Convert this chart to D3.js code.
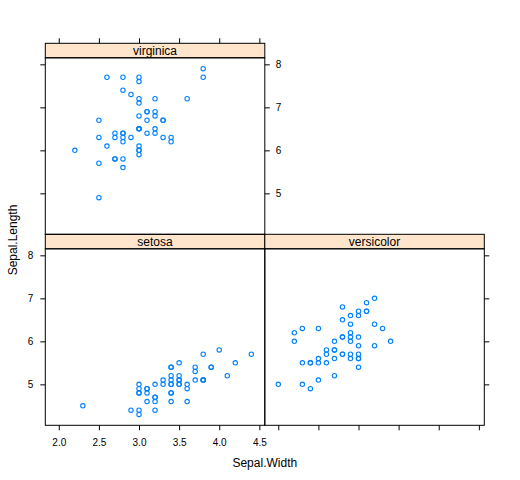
<!DOCTYPE html>
<html>
<head>
<meta charset="utf-8">
<script src="https://cdn.jsdelivr.net/npm/d3@7"></script>
<style>
  body { margin: 0; background: #fff; }
  text { font-family: "Liberation Sans", Arial, sans-serif; fill: #000; }
</style>
</head>
<body>
<div id="chart"></div>
<script>
// iris data, one pair of arrays per species
const setosaWidth  = [3.5,3.0,3.2,3.1,3.6,3.9,3.4,3.4,2.9,3.1,3.7,3.4,3.0,3.0,4.0,4.4,3.9,3.5,3.8,3.8,3.4,3.7,3.6,3.3,3.4,3.0,3.4,3.5,3.4,3.2,3.1,3.4,4.1,4.2,3.1,3.2,3.5,3.6,3.0,3.4,3.5,2.3,3.2,3.5,3.8,3.0,3.8,3.2,3.7,3.3];
const setosaLength = [5.1,4.9,4.7,4.6,5.0,5.4,4.6,5.0,4.4,4.9,5.4,4.8,4.8,4.3,5.8,5.7,5.4,5.1,5.7,5.1,5.4,5.1,4.6,5.1,4.8,5.0,5.0,5.2,5.2,4.7,4.8,5.4,5.2,5.5,4.9,5.0,5.5,4.9,4.4,5.1,5.0,4.5,4.4,5.0,5.1,4.8,5.1,4.6,5.3,5.0];
const versicolorWidth  = [3.2,3.2,3.1,2.3,2.8,2.8,3.3,2.4,2.9,2.7,2.0,3.0,2.2,2.9,2.9,3.1,3.0,2.7,2.2,2.5,3.2,2.8,2.5,2.8,2.9,3.0,2.8,3.0,2.9,2.6,2.4,2.4,2.7,2.7,3.0,3.4,3.1,2.3,3.0,2.5,2.6,3.0,2.6,2.3,2.7,3.0,2.9,2.9,2.5,2.8];
const versicolorLength = [7.0,6.4,6.9,5.5,6.5,5.7,6.3,4.9,6.6,5.2,5.0,5.9,6.0,6.1,5.6,6.7,5.6,5.8,6.2,5.6,5.9,6.1,6.3,6.1,6.4,6.6,6.8,6.7,6.0,5.7,5.5,5.5,5.8,6.0,5.4,6.0,6.7,6.3,5.6,5.5,5.5,6.1,5.8,5.0,5.6,5.7,5.7,6.2,5.1,5.7];
const virginicaWidth  = [3.3,2.7,3.0,2.9,3.0,3.0,2.5,2.9,2.5,3.6,3.2,2.7,3.0,2.5,2.8,3.2,3.0,3.8,2.6,2.2,3.2,2.8,2.8,2.7,3.3,3.2,2.8,3.0,2.8,3.0,2.8,3.8,2.8,2.8,2.6,3.0,3.4,3.1,3.0,3.1,3.1,3.1,2.7,3.2,3.3,3.0,2.5,3.0,3.4,3.0];
const virginicaLength = [6.3,5.8,7.1,6.3,6.5,7.6,4.9,7.3,6.7,7.2,6.5,6.4,6.8,5.7,5.8,6.4,6.5,7.7,7.7,6.0,6.9,5.6,7.7,6.3,6.7,7.2,6.2,6.1,6.4,7.2,7.4,7.9,6.4,6.3,6.1,7.7,6.3,6.4,6.0,6.9,6.7,6.9,5.8,6.8,6.7,6.0,6.3,6.5,6.2,5.9];

// tick values shared by every panel
const xTicks = [2.0, 2.5, 3.0, 3.5, 4.0, 4.5];
const yTicks = [5, 6, 7, 8];

// svg setup
const width = 520, height = 480;
const svg = d3.select("#chart").append("svg")
    .attr("width", width)
    .attr("height", height);

// panel geometry (lattice 2x2 layout, top-right empty)
const panelW = 219.5;
const stripH = 14.5;
const left0 = 45.3;
const top0 = 43.3;
const rowH = 191;  // strip + panel

// lattice pads the data range by 7%
const allX = setosaWidth.concat(versicolorWidth, virginicaWidth);
const allY = setosaLength.concat(versicolorLength, virginicaLength);
const xMin = d3.min(allX), xMax = d3.max(allX);
const yMin = d3.min(allY), yMax = d3.max(allY);
const xPad = (xMax - xMin) * 0.07, yPad = (yMax - yMin) * 0.07;

const panels = [
    { name: "setosa",     col: 0, row: 1, xs: setosaWidth,     ys: setosaLength },
    { name: "versicolor", col: 1, row: 1, xs: versicolorWidth, ys: versicolorLength },
    { name: "virginica",  col: 0, row: 0, xs: virginicaWidth,  ys: virginicaLength }
];

panels.forEach(p => {
    const px = left0 + p.col * panelW;
    const stripY = top0 + p.row * rowH;
    const py = stripY + stripH;
    const ph = rowH - stripH;

    const x = d3.scaleLinear().domain([xMin - xPad, xMax + xPad]).range([px, px + panelW]);
    const y = d3.scaleLinear().domain([yMin - yPad, yMax + yPad]).range([py + ph, py]);

    // strip
    svg.append("rect")
        .attr("x", px).attr("y", stripY)
        .attr("width", panelW).attr("height", stripH)
        .attr("fill", "#ffe5cc")
        .attr("stroke", "#000").attr("stroke-width", 1);
    svg.append("text")
        .attr("x", px + panelW / 2)
        .attr("y", stripY + stripH / 2 + 4.3)
        .attr("text-anchor", "middle")
        .style("font-size", "12px")
        .text(p.name);

    // points
    svg.append("g").selectAll("circle")
        .data(d3.zip(p.xs, p.ys))
        .enter().append("circle")
        .attr("cx", d => x(d[0]))
        .attr("cy", d => y(d[1]))
        .attr("r", 2.2)
        .attr("fill", "none")
        .attr("stroke", "#0080ff")
        .attr("stroke-width", 1.1);

    // axes: which sides get ticks and which get labels
    const bottomRow = p.row === 1;
    const sides = [];
    if (bottomRow) sides.push({ axis: d3.axisBottom(x), pos: `translate(0,${py + ph})`, labels: p.col === 0, pad: 9, isX: true });
    else sides.push({ axis: d3.axisTop(x), pos: `translate(0,${stripY})`, labels: false, pad: 3, isX: true });
    if (p.col === 0) sides.push({ axis: d3.axisLeft(y), pos: `translate(${px},0)`, labels: bottomRow, pad: 7, isX: false });
    if (p.col === 1 || p.row === 0) sides.push({ axis: d3.axisRight(y), pos: `translate(${px + panelW},0)`, labels: p.row === 0, pad: 6, isX: false });

    sides.forEach(s => {
        const g = svg.append("g")
            .attr("transform", s.pos)
            .call(s.axis
                .tickValues(s.isX ? xTicks : yTicks)
                .tickSize(5).tickSizeOuter(0).tickPadding(s.pad)
                .tickFormat(s.isX ? d3.format(".1f") : d3.format("d")));
        g.select(".domain").remove();
        g.selectAll("line").attr("stroke", "#000");
        g.selectAll("text")
            .style("font-family", '"Liberation Sans", Arial, sans-serif')
            .style("font-size", "10px")
            .attr("fill", "#000");
        if (!s.labels) g.selectAll("text").remove();
    });

    // panel border
    svg.append("rect")
        .attr("x", px).attr("y", py)
        .attr("width", panelW).attr("height", ph)
        .attr("fill", "none")
        .attr("stroke", "#000").attr("stroke-width", 1);
});

// axis titles
svg.append("text")
    .attr("x", left0 + panelW)
    .attr("y", 467)
    .attr("text-anchor", "middle")
    .style("font-size", "12px")
    .text("Sepal.Width");
svg.append("text")
    .attr("transform", "rotate(-90)")
    .attr("x", -240)
    .attr("y", 17)
    .attr("text-anchor", "middle")
    .style("font-size", "12px")
    .text("Sepal.Length");
</script>
</body>
</html>
